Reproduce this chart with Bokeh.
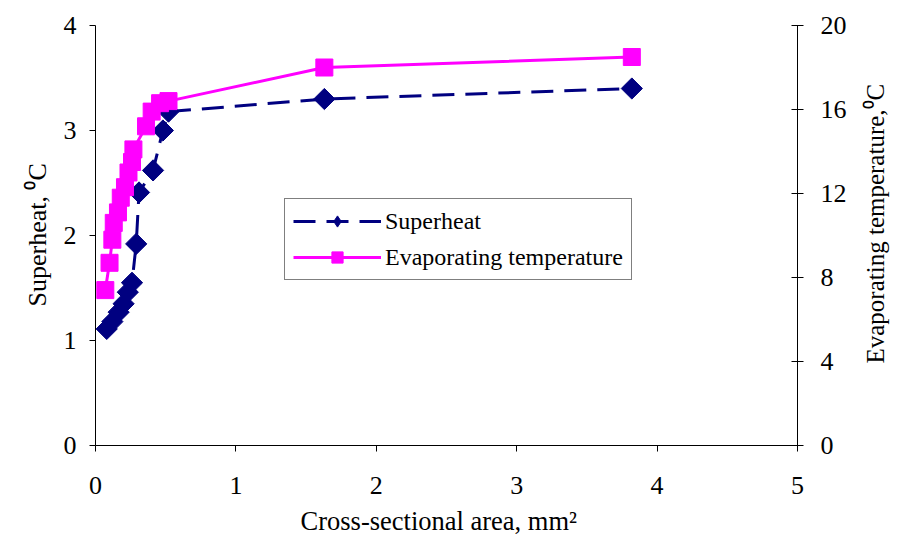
import math
from bokeh.plotting import figure
from bokeh.models import LinearAxis, Range1d, Legend, LegendItem, FixedTicker, Label
from bokeh.embed import file_html
from bokeh.resources import INLINE

# Data
area_sh = [0.08, 0.12, 0.165, 0.20, 0.23, 0.26, 0.29, 0.31, 0.41, 0.48, 0.52, 1.63, 3.82]
superheat = [1.11, 1.18, 1.27, 1.35, 1.46, 1.55, 1.92, 2.41, 2.62, 3.00, 3.18, 3.30, 3.40]

area_ev = [0.07, 0.10, 0.12, 0.13, 0.16, 0.18, 0.21, 0.235, 0.26, 0.27, 0.36, 0.40, 0.46, 0.52, 1.63, 3.82]
evap_temp = [7.4, 8.7, 9.8, 10.6, 11.1, 11.8, 12.3, 13.0, 13.5, 14.1, 15.2, 15.9, 16.3, 16.4, 18.0, 18.5]

x_ticks = [0, 1, 2, 3, 4, 5]
left_ticks = [0, 1, 2, 3, 4]
right_ticks = [0, 4, 8, 12, 16, 20]

x_title = "Cross-sectional area, mm\u00b2"
left_title = "Superheat, \u2070C"
right_title = "Evaporating temperature,\u2070C"

# layout: axes drawn at fixed places inside a frame that fills the whole canvas
W, H = 898, 545
AX_L, AX_R, AX_T, AX_B = 95, 797, 25, 445      # pixel box of the axes
X_MIN, X_MAX = 0, 5
Y_MIN, Y_MAX = 0, 4
R_MIN, R_MAX = 0, 20
px_x = (AX_R - AX_L) / (X_MAX - X_MIN)
px_y = (AX_B - AX_T) / (Y_MAX - Y_MIN)
xv0, xv1 = X_MIN - AX_L / px_x, X_MAX + (W - AX_R) / px_x
yv0, yv1 = Y_MIN - (H - AX_B) / px_y, Y_MAX + AX_T / px_y
rs = (R_MAX - R_MIN) / (Y_MAX - Y_MIN)

def xd(px):  # page pixel -> x data
    return X_MIN + (px - AX_L) / px_x

def yd(py):  # page pixel -> left-y data
    return Y_MIN + (AX_B - py) / px_y

FONT = "Liberation Serif"
NAVY = "#000080"
MAGENTA = "#FF00FF"

p = figure(width=W, height=H, x_range=Range1d(xv0, xv1), y_range=Range1d(yv0, yv1),
           output_backend="svg", toolbar_location=None,
           min_border_left=0, min_border_right=0, min_border_top=0, min_border_bottom=0)
p.outline_line_color = None
p.xgrid.visible = False
p.ygrid.visible = False
p.background_fill_color = "white"
p.border_fill_color = "white"

p.extra_y_ranges = {"evap": Range1d(R_MIN + (yv0 - Y_MIN) * rs, R_MIN + (yv1 - Y_MIN) * rs)}

def style_axis(ax):
    ax.axis_line_color = "black"
    ax.axis_line_width = 1
    ax.major_tick_line_color = "black"
    ax.minor_tick_line_color = None
    ax.major_label_text_font = FONT
    ax.major_label_text_font_size = "26px"
    ax.major_label_text_color = "black"

xa = p.xaxis[0]
style_axis(xa)
xa.fixed_location = Y_MIN
xa.bounds = (X_MIN, X_MAX)
xa.ticker = FixedTicker(ticks=x_ticks)
xa.major_tick_in = 0
xa.major_tick_out = 6
xa.major_label_standoff = 25

ya = p.yaxis[0]
style_axis(ya)
ya.fixed_location = X_MIN
ya.bounds = (Y_MIN, Y_MAX)
ya.ticker = FixedTicker(ticks=left_ticks)
ya.major_tick_in = 0
ya.major_tick_out = 6
ya.major_label_standoff = 13

ra = LinearAxis(y_range_name="evap", fixed_location=X_MAX, bounds=(R_MIN, R_MAX))
style_axis(ra)
ra.ticker = FixedTicker(ticks=right_ticks)
ra.major_tick_in = 6
ra.major_tick_out = 6
ra.major_label_standoff = 17
p.add_layout(ra, "right")

# axis titles
p.add_layout(Label(x=xd(300), y=yd(520), text=x_title, text_align="left", text_baseline="middle",
                   text_font=FONT, text_font_size="26.5px", text_color="black"))
p.add_layout(Label(x=xd(37), y=yd(306), text=left_title, angle=math.pi / 2,
                   text_align="left", text_baseline="middle",
                   text_font=FONT, text_font_size="26px", text_color="black"))
p.add_layout(Label(x=xd(875), y=yd(363), text=right_title, angle=math.pi / 2,
                   text_align="left", text_baseline="middle",
                   text_font=FONT, text_font_size="25px", text_color="black"))

sh_line = p.line(area_sh, superheat, line_color=NAVY, line_width=3, line_dash="22 11")
sh_mark = p.scatter(area_sh, superheat, marker="square", angle=math.pi / 4, size=15,
                    fill_color=NAVY, line_color=NAVY)
# diamond swatch used only by the legend
sh_key = p.scatter(area_sh, superheat, marker="diamond", size=15,
                   fill_color=NAVY, line_color=NAVY, visible=False)

ev_line = p.line(area_ev, evap_temp, line_color=MAGENTA, line_width=3, y_range_name="evap")
ev_mark = p.scatter(area_ev, evap_temp, marker="square", size=17,
                    fill_color=MAGENTA, line_color=MAGENTA, y_range_name="evap")

legend = Legend(items=[LegendItem(label="Superheat", renderers=[sh_line, sh_key]),
                       LegendItem(label="Evaporating temperature", renderers=[ev_line, ev_mark])],
                location=(284, H - 280), margin=0, padding=8, spacing=8,
                glyph_width=88, glyph_height=28, label_standoff=4, label_height=28,
                label_text_font=FONT, label_text_font_size="24px", label_text_color="black",
                border_line_color="black", border_line_width=1,
                background_fill_color="white", background_fill_alpha=1.0)
p.add_layout(legend, "center")

open("out.html", "w").write(file_html(p, INLINE))
